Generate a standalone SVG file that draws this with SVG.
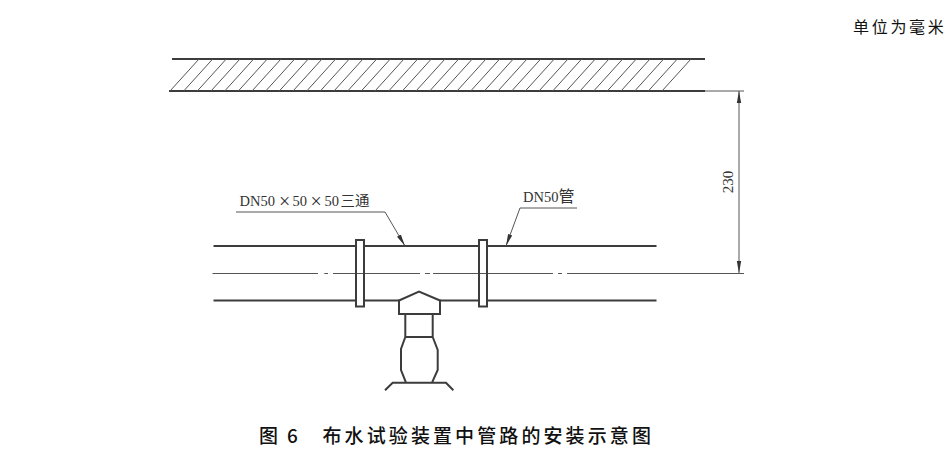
<svg xmlns="http://www.w3.org/2000/svg" width="952" height="450" viewBox="0 0 952 450">
<style>
.th{stroke:#3c3c3c;stroke-width:2;fill:none}
.tn{stroke:#555;stroke-width:1;fill:none}
.lb{font-family:"Liberation Serif","Noto Sans CJK SC",serif;font-size:14.500px;fill:#333}
.cn{font-family:"Noto Sans CJK SC",sans-serif;fill:#111}
.x{font-size:20px}
.v{font-size:16px}
</style>
<defs>
<marker id="a" markerUnits="userSpaceOnUse" markerWidth="12" markerHeight="6" refX="12" refY="3" orient="auto-start-reverse"><path d="M0 0.8L12 3L0 5.2Z" fill="#333"/></marker>
</defs>
<rect width="952" height="450" fill="#fff"/>
<text class="cn" x="853" y="33" font-size="16" letter-spacing="2.700">单位为毫米</text>
<g id="slab">
<path class="th" d="M172 59H705M169 91H705"/>
<path class="tn" id="hatch" d="M199 59L170 91M212.700 59L183.700 91M226.300 59L197.300 91M240 59L211 91M253.700 59L224.700 91M267.300 59L238.300 91M281 59L252 91M294.700 59L265.700 91M308.300 59L279.300 91M322 59L293 91M335.700 59L306.700 91M349.300 59L320.300 91M363 59L334 91M376.700 59L347.700 91M390.300 59L361.300 91M404 59L375 91M417.700 59L388.700 91M431.300 59L402.300 91M445 59L416 91M458.700 59L429.700 91M472.300 59L443.300 91M486 59L457 91M499.700 59L470.700 91M513.300 59L484.300 91M527 59L498 91M540.700 59L511.700 91M554.300 59L525.300 91M568 59L539 91M581.700 59L552.700 91M595.300 59L566.300 91M609 59L580 91M622.700 59L593.700 91M636.300 59L607.300 91M650 59L621 91M663.700 59L634.700 91M677.300 59L648.300 91M691 59L662 91"/>
</g>
<g id="pipe">
<path class="th" d="M213.500 246H356M364 246H479M487 246H656.500M213.500 300.500H356M364 300.500H399M440 300.500H479M487 300.500H656.500"/>
</g>
<g id="connectors">
<path class="tn" d="M212.500 273.500H318M324.300 273.500H328M333 273.500H420M425 273.500H430M433 273.500H553M558 273.500H562M567 273.500H744"/>
<path class="tn" d="M705 91H744"/>
<path class="tn" d="M739 91V273" marker-start="url(#a)" marker-end="url(#a)"/>
<path class="tn" d="M236 212H385L405 246" marker-end="url(#a)"/>
<path class="tn" d="M577 208H520L506 246" marker-end="url(#a)"/>
</g>
<g id="flange-left"><rect class="th" x="356" y="240" width="8" height="66.500"/></g>
<g id="flange-right"><rect class="th" x="479" y="240" width="8" height="66.500"/></g>
<g id="sprinkler">
<path class="th" d="M399 300.500L419 291.700L440 300.500V314H399ZM405.300 314V337M432.700 314V337M405.300 337H432.700M405.300 337L401 349V370L406 382.700M432.700 337L437.700 350V370L432 382.700M385 390.300L392.700 382.700H446L453.300 390.300"/>
</g>
<text class="lb" y="206"><tspan x="239.500">DN50</tspan><tspan class="x" x="279" dy="1.500">×</tspan><tspan x="292.500" dy="-1.500">50</tspan><tspan class="x" x="310.500" dy="1.500">×</tspan><tspan x="324.500" dy="-1.500">50</tspan><tspan x="340.500">三通</tspan></text>
<text class="lb" x="523" y="202">DN50<tspan class="v">管</tspan></text>
<text class="lb" transform="translate(733 182) rotate(-90)" text-anchor="middle" textLength="22.600" lengthAdjust="spacingAndGlyphs">230</text>
<text class="cn" x="259" y="443" font-size="19" font-weight="500">图</text>
<text class="cn" x="287" y="443" font-size="19" font-weight="500">6</text>
<text class="cn" x="322.500" y="443" font-size="19" font-weight="500" letter-spacing="3.100">布水试验装置中管路的安装示意图</text>
</svg>
